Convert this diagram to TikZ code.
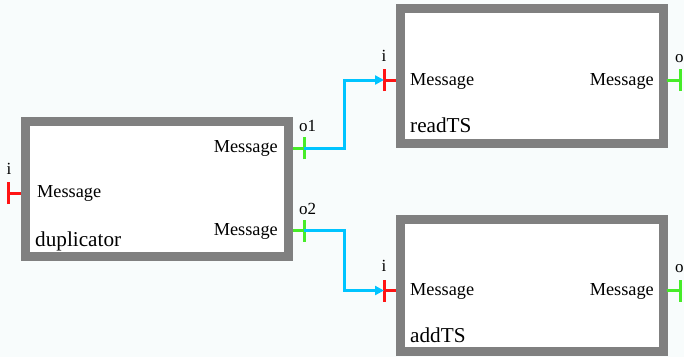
\documentclass[tikz,border=0pt]{standalone}
\usepackage{fontspec}
\setmainfont{Liberation Serif}
\usetikzlibrary{arrows.meta}
\definecolor{bg}{RGB}{248,252,252}
\definecolor{boxgray}{RGB}{128,128,128}
\definecolor{inred}{RGB}{255,20,20}
\definecolor{outgreen}{RGB}{70,236,40}
\definecolor{linkblue}{RGB}{0,196,255}
\tikzset{
  box/.style={draw=boxgray, line width=9pt, fill=white, inner sep=0pt, outer sep=0pt},
  msg/.style={font=\rmfamily\fontsize{18.3}{18.3}\selectfont, inner sep=0pt},
  title/.style={font=\rmfamily\fontsize{21.2}{21.2}\selectfont, inner sep=0pt, anchor=base west},
  plabel/.style={font=\rmfamily\fontsize{17}{17}\selectfont, inner sep=0pt, anchor=base},
  inport/.style={draw=inred, line width=3pt},
  outport/.style={draw=outgreen, line width=3pt},
  link/.style={draw=linkblue, line width=3pt, -{Triangle[length=9pt,width=9pt]}},
}
\begin{document}
\begin{tikzpicture}[x=1pt,y=-1pt]
\useasboundingbox[fill=bg] (0,0) rectangle (684,357);
% boxes
\node[box, minimum width=263pt, minimum height=135pt] (dup) at (156.5,188.5) {};
\node[box, minimum width=262.5pt, minimum height=134.5pt] (read) at (531.75,75.75) {};
\node[box, minimum width=262.5pt, minimum height=132pt] (add) at (531.75,285.5) {};
% box titles
\node[title] (duplbl) at (35,246) {duplicator};
\node[title] (readlbl) at (410,132.7) {readTS};
\node[title] (addlbl) at (410,342.7) {addTS};
% message texts
\node[msg, anchor=base west] (dupin) at (37,197.3) {Message};
\node[msg, anchor=base east] (dupo1) at (278,152.7) {Message};
\node[msg, anchor=base east] (dupo2) at (278,235) {Message};
\node[msg, anchor=base west] (readin) at (410,85.7) {Message};
\node[msg, anchor=base east] (readout) at (654,85.7) {Message};
\node[msg, anchor=base west] (addin) at (410,295.7) {Message};
\node[msg, anchor=base east] (addout) at (654,295.7) {Message};
% port coordinates
\coordinate (dupI) at (8.5,193);
\coordinate (dupIe) at (20.5,193);
\coordinate (dupO1) at (304,148.3);
\coordinate (dupO1s) at (292.5,148.3);
\coordinate (dupO2) at (304,230.7);
\coordinate (dupO2s) at (292.5,230.7);
\coordinate (readI) at (384,80);
\coordinate (readIe) at (396,80);
\coordinate (readO) at (680,80);
\coordinate (readOs) at (667,80);
\coordinate (addI) at (384,290.5);
\coordinate (addIe) at (396,290.5);
\coordinate (addO) at (680,290.5);
\coordinate (addOs) at (667,290.5);
% ports
\draw[inport] (dupIe) -- (dupI) ([yshift=-11pt]dupI) -- ([yshift=11pt]dupI);
\draw[outport] (dupO1s) -- (dupO1) ([yshift=-11pt]dupO1) -- ([yshift=11pt]dupO1);
\draw[outport] (dupO2s) -- (dupO2) ([yshift=-11pt]dupO2) -- ([yshift=11pt]dupO2);
\draw[inport] (readIe) -- (readI) ([yshift=-11pt]readI) -- ([yshift=11pt]readI);
\draw[outport] (readOs) -- (readO) ([yshift=-11pt]readO) -- ([yshift=11pt]readO);
\draw[inport] (addIe) -- (addI) ([yshift=-11pt]addI) -- ([yshift=11pt]addI);
\draw[outport] (addOs) -- (addO) ([yshift=-11pt]addO) -- ([yshift=11pt]addO);
% port labels
\node[plabel] (dupIl) at (9,174) {i};
\node[plabel, anchor=base west] (dupO1l) at (299,131.7) {o1};
\node[plabel, anchor=base west] (dupO2l) at (299,214) {o2};
\node[plabel] (readIl) at (384,61.7) {i};
\node[plabel, anchor=base west] (readOl) at (675,62.7) {o};
\node[plabel] (addIl) at (384,271.7) {i};
\node[plabel, anchor=base west] (addOl) at (675,272.7) {o};
% links
\draw[link] (dupO1) -- (344,148.3) |- (readI);
\draw[link] (dupO2) -- (344,230.7) |- (addI);
\end{tikzpicture}
\end{document}
